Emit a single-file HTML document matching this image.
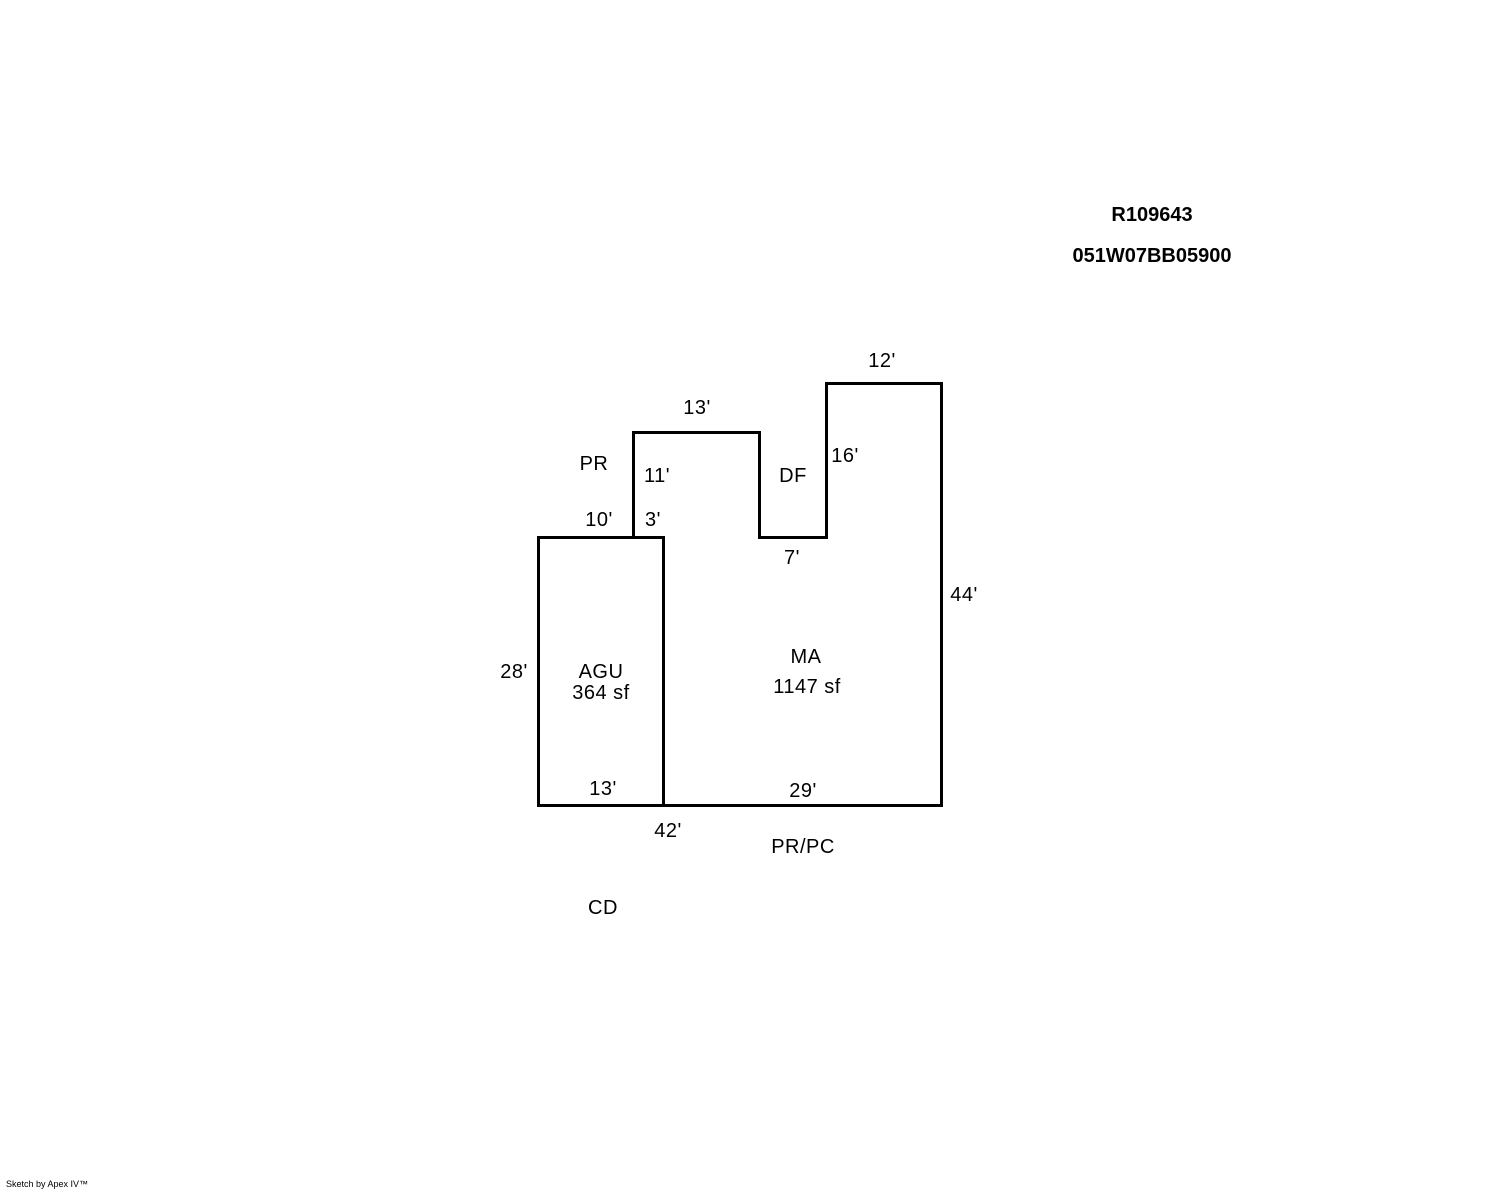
<!DOCTYPE html>
<html><head><meta charset="utf-8"><style>
html,body{margin:0;padding:0;background:#fff;}
svg{display:block}
text{font-family:"Liberation Sans",Arial,sans-serif;font-size:20px;letter-spacing:0.5px;fill:#000}
</style></head><body>
<svg width="1488" height="1190" viewBox="0 0 1488 1190" xmlns="http://www.w3.org/2000/svg">
<g fill="none" stroke="#000" stroke-width="3" stroke-linejoin="miter" stroke-linecap="square">
<rect x="538.5" y="537.5" width="125" height="268"/>
<polyline points="633.5,537.5 633.5,432.5 759.5,432.5 759.5,537.5 826.5,537.5 826.5,383.5 941.5,383.5 941.5,805.5 663.5,805.5"/>
</g>
<g text-anchor="middle">
<text x="1152" y="221" font-weight="bold" style="letter-spacing:0">R109643</text>
<text x="1152" y="262" font-weight="bold" style="letter-spacing:0">051W07BB05900</text>
<text x="882" y="367">12'</text>
<text x="697" y="414">13'</text>
<text x="594" y="470">PR</text>
<text x="657" y="482">11'</text>
<text x="793" y="482">DF</text>
<text x="845" y="462">16'</text>
<text x="599" y="526">10'</text>
<text x="653" y="526">3'</text>
<text x="792" y="564">7'</text>
<text x="964" y="601">44'</text>
<text x="806" y="663">MA</text>
<text x="807" y="693">1147 sf</text>
<text x="514" y="678">28'</text>
<text x="601" y="678">AGU</text>
<text x="601" y="699">364 sf</text>
<text x="603" y="795">13'</text>
<text x="803" y="797">29'</text>
<text x="668" y="837">42'</text>
<text x="803" y="853">PR/PC</text>
<text x="603" y="914">CD</text>
</g>
<text x="6" y="1187" style="font-size:9px;letter-spacing:0">Sketch by Apex IV™</text>
</svg>
</body></html>
